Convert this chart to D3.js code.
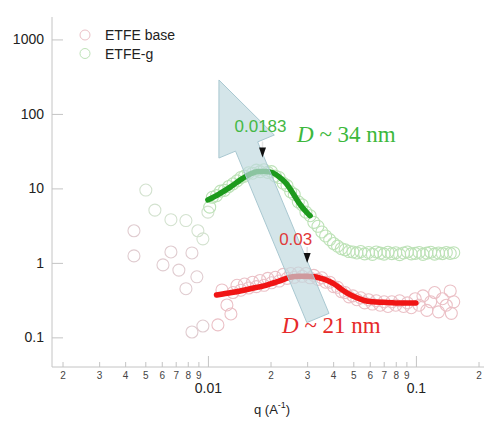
<!DOCTYPE html>
<html><head><meta charset="utf-8">
<script src="https://cdn.jsdelivr.net/npm/d3@7"></script>
<style>body{margin:0;background:#fff}svg{display:block}</style>
</head><body><svg id="c" width="484" height="421"></svg>
<script>
// ---------- data ----------
const xDomain = [0.00178, 0.22];
const yDomain = [0.04, 2000];
const xMajorTicks = [0.01, 0.1];
const xMajorLabels = ["0.01", "0.1"];
const xMinorTicks = [0.002,0.003,0.004,0.005,0.006,0.007,0.008,0.009,0.02,0.03,0.04,0.05,0.06,0.07,0.08,0.09,0.2];
const xMinorLabels = ["2","3","4","5","6","7","8","9","2","3","4","5","6","7","8","9","2"];
const yMajorTicks = [0.1, 1, 10, 100, 1000];
const yMajorLabels = ["0.1", "1", "10", "100", "1000"];
const seriesNames = ["ETFE base", "ETFE-g"];

const baseQ = [0.00441,0.00441,0.00608,0.00664,0.00725,0.00784,0.00838,0.00838,0.00885,0.00946,0.01117,0.01168,0.01234,0.0129,
  0.0132,0.0138,0.0144,0.0150,0.0157,0.0164,0.0171,0.0178,0.0186,0.0194,0.0202,0.0211,0.0220,0.0230,0.0240,0.0250,0.0260,0.0272,0.0284,0.0296,
  0.0310,0.0323,0.0338,0.0353,0.0368,0.0385,0.0402,0.0420,0.0438,0.0457,0.0477,0.0498,0.0520,0.0543,0.0567,0.0592,0.0618,0.0645,0.0673,0.0703,
  0.0734,0.0766,0.0800,0.0835,0.0872,0.0910,0.0950,0.0992,0.1036,0.1081,0.1129,0.1178,0.1230,0.1284,0.1341,0.1400,0.1462,0.1520,0.1480];
const baseI = [2.7,1.24,0.94,1.40,0.80,0.45,1.36,0.118,0.65,0.142,0.147,0.433,0.272,0.206,
  0.40,0.50,0.43,0.52,0.46,0.55,0.48,0.58,0.50,0.62,0.54,0.64,0.57,0.70,0.62,0.72,0.64,0.73,0.66,0.72,
  0.63,0.68,0.60,0.63,0.55,0.55,0.48,0.47,0.41,0.40,0.35,0.36,0.32,0.34,0.29,0.32,0.28,0.31,0.27,0.30,
  0.26,0.30,0.27,0.31,0.26,0.29,0.25,0.33,0.27,0.36,0.23,0.30,0.40,0.22,0.33,0.27,0.42,0.30,0.21];

const graftQ = [0.00503,0.00556,0.00664,0.00784,0.00895,0.00946,0.0100,0.0102,
  0.0105,0.0110,0.0115,0.0120,0.0126,0.0132,0.0138,0.0144,0.0150,0.0157,0.0164,0.0171,0.0178,0.0186,0.0194,0.0202,0.0211,0.0220,0.0230,0.0240,
  0.0250,0.0260,0.0272,0.0284,0.0296,0.0310,0.0323,0.0338,0.0353,0.0368,0.0385,0.0402,0.0420,0.0438,0.0457,0.0477,0.0498,
  0.0520,0.0543,0.0567,0.0592,0.0618,0.0645,0.0673,0.0703,0.0734,0.0766,0.0800,0.0835,0.0872,0.0910,0.0950,0.0992,0.1036,0.1081,0.1129,0.1178,
  0.1230,0.1284,0.1341,0.1400,0.1462,0.1520];
const graftI = [9.5,5.1,3.8,3.7,2.7,2.1,4.8,5.6,
  7.6,8.0,9.2,9.4,10.6,11.5,12.6,14.0,14.6,16.2,16.0,17.6,16.8,17.8,16.4,16.8,14.6,14.0,11.8,10.9,
  9.0,8.3,6.6,6.0,4.8,4.3,3.5,3.1,2.6,2.3,2.05,1.82,1.68,1.55,1.50,1.42,1.40,
  1.36,1.42,1.32,1.38,1.30,1.40,1.35,1.31,1.39,1.33,1.37,1.29,1.36,1.40,1.32,1.34,1.38,1.30,1.35,1.39,
  1.31,1.36,1.33,1.38,1.34,1.37];

const graftFitQ = [0.0100,0.0113,0.0128,0.0145,0.0160,0.0175,0.0190,0.0205,0.0220,0.0237,0.0255,0.0275,0.0300,0.0310];
const graftFitI = [7.0,8.4,10.4,13.3,15.6,16.9,16.9,16.2,14.3,11.8,8.8,6.3,4.7,4.3];
const baseFitQ = [0.0110,0.0130,0.0160,0.0190,0.0220,0.0248,0.0275,0.0300,0.0326,0.0350,0.0375,0.0405,0.0435,0.0470,0.0520,0.0570,0.0620,0.0700,0.0800,0.0900,0.1000];
const baseFitI = [0.37,0.40,0.45,0.50,0.57,0.64,0.66,0.66,0.65,0.62,0.58,0.52,0.45,0.39,0.34,0.31,0.30,0.295,0.29,0.29,0.29];

const peakQ = [0.0183, 0.03];
const peakLabels = ["0.0183", "0.03"];
const peakMarkerI = [26, 1.0];
const sizeLabels = ["34", "21"];
const arrowTail = [0.0338, 0.182];
const arrowTip = [0.0113, 285];

// ---------- scales ----------
const svg = d3.select("#c");
const x0 = 52;
const x = d3.scaleLog().domain(xDomain).range([x0, x0 + 208 * Math.log10(xDomain[1] / xDomain[0])]);
const y = d3.scaleLog().domain(yDomain).range([367, 17]);
const axisColor = "#c4c4c4";
const FONT = "'Liberation Sans', Arial, sans-serif";
const SERIF = "'Liberation Serif', 'Times New Roman', serif";

// y minor ticks
const yMinor = [];
for (let e = -2; e <= 3; e++) for (let m = 2; m <= 9; m++) { const v = m * Math.pow(10, e); if (v >= yDomain[0] && v <= yDomain[1]) yMinor.push(v); }

const gy = svg.append("g").attr("transform", `translate(${x0},0)`);
gy.call(d3.axisLeft(y).tickValues(yMinor).tickSize(-6).tickFormat(""));
gy.call(d3.axisLeft(y).tickValues(yMajorTicks).tickSize(-11).tickPadding(8).tickFormat((d, i) => yMajorLabels[i]));
gy.selectAll("path").attr("d", `M0,${y.range()[1]}V${y.range()[0]}`);
gy.selectAll("text").attr("font-size", 14).attr("fill", "#222");

const gx = svg.append("g").attr("transform", `translate(0,${y.range()[0]})`);
gx.call(d3.axisBottom(x).tickValues(xMinorTicks).tickSize(-5).tickPadding(5).tickFormat((d, i) => xMinorLabels[i]));
gx.selectAll("text").attr("font-size", 10).attr("fill", "#444");
const gx2 = svg.append("g").attr("transform", `translate(0,${y.range()[0]})`);
gx2.call(d3.axisBottom(x).tickValues(xMajorTicks).tickSize(-11).tickPadding(16).tickFormat((d, i) => xMajorLabels[i]));
gx2.selectAll("text").attr("font-size", 14).attr("fill", "#222");
gx2.select("path").remove();
gx.select("path").attr("d", `M${x0},0H484`);
svg.selectAll("g text").attr("font-family", FONT);
svg.selectAll("g path, g line").attr("stroke", axisColor);

// x label
const xl = svg.append("text").attr("x", 254).attr("y", 414).attr("font-family", FONT).attr("font-size", 13).attr("fill", "#222");
xl.append("tspan").text("q (A");
xl.append("tspan").attr("font-size", 9).attr("dy", -6).text("-1");
xl.append("tspan").attr("dy", 6).text(")");

// ---------- data marks ----------
const baseColor = "#ebc0c6", graftColor = "#bde2b7";
const lowColorBase = "#e0ccd0", lowColorGraft = "#d3e2cf";
svg.append("g").selectAll("circle").data(baseQ).join("circle")
  .attr("cx", d => x(d)).attr("cy", (d, i) => y(baseI[i])).attr("r", 6)
  .attr("fill", "none").attr("stroke", d => d < 0.0101 ? lowColorBase : baseColor).attr("stroke-width", 1.1);
svg.append("g").selectAll("circle").data(graftQ).join("circle")
  .attr("cx", d => x(d)).attr("cy", (d, i) => y(graftI[i])).attr("r", 6)
  .attr("fill", "none").attr("stroke", d => d < 0.0101 ? lowColorGraft : graftColor).attr("stroke-width", 1.1);

const line = d3.line().x(d => x(d[0])).y(d => y(d[1])).curve(d3.curveMonotoneX);
svg.append("path").attr("d", line(graftFitQ.map((q, i) => [q, graftFitI[i]])))
  .attr("fill", "none").attr("stroke", "#1c9a1c").attr("stroke-width", 5.5).attr("stroke-linecap", "round");
svg.append("path").attr("d", line(baseFitQ.map((q, i) => [q, baseFitI[i]])))
  .attr("fill", "none").attr("stroke", "#f01414").attr("stroke-width", 5.5).attr("stroke-linecap", "round");

// ---------- arrow ----------
const T = [x(arrowTail[0]), y(arrowTail[1])], P = [x(arrowTip[0]), y(arrowTip[1])];
const L = Math.hypot(P[0] - T[0], P[1] - T[1]);
const dv = [(P[0] - T[0]) / L, (P[1] - T[1]) / L], pv = [-dv[1], dv[0]];
const hw = 12, HW = 30, HL = 72;
const N = [P[0] - dv[0] * HL, P[1] - dv[1] * HL];
const pt = (b, s) => [b[0] + pv[0] * s, b[1] + pv[1] * s];
const arrowPts = [pt(T, hw), pt(N, hw), pt(N, HW), P, pt(N, -HW), pt(N, -hw), pt(T, -hw)];
svg.append("polygon").attr("points", arrowPts.map(p => p.join(",")).join(" "))
  .attr("fill", "#bfd8df").attr("fill-opacity", 0.68).attr("stroke", "#a9c8d1").attr("stroke-width", 1);

// ---------- peak markers ----------
peakQ.forEach((q, i) => {
  const cx = x(q), cy = y(peakMarkerI[i]);
  svg.append("line").attr("x1", cx).attr("x2", cx).attr("y1", cy - 16).attr("y2", cy - 9).attr("stroke", "#e4e4e4").attr("stroke-width", 1.5);
  svg.append("path").attr("d", `M${cx - 3.5},${cy - 10}L${cx + 3.5},${cy - 10}L${cx},${cy}Z`).attr("fill", "#111");
});

// ---------- labels ----------
svg.append("text").attr("x", x(peakQ[0]) - 28).attr("y", 132).attr("font-family", FONT).attr("font-size", 17)
  .attr("fill", "#45b845").text(peakLabels[0]);
svg.append("text").attr("x", x(peakQ[1]) - 28).attr("y", 245).attr("font-family", FONT).attr("font-size", 17)
  .attr("fill", "#e03a3a").text(peakLabels[1]);

function sizeLabel(xp, yp, txt, col) {
  const t = svg.append("text").attr("x", xp).attr("y", yp).attr("font-family", SERIF).attr("font-size", 23).attr("fill", col);
  t.append("tspan").attr("font-style", "italic").text("D");
  t.append("tspan").text(" ~ " + txt + " nm");
}
sizeLabel(297, 142, sizeLabels[0], "#3cb83c");
sizeLabel(282, 333, sizeLabels[1], "#e62a2a");

// ---------- legend ----------
[baseColor, graftColor].forEach((c, i) => {
  svg.append("circle").attr("cx", 85).attr("cy", 35 + i * 18.5).attr("r", 5).attr("fill", "none").attr("stroke", c).attr("stroke-width", 1);
  svg.append("text").attr("x", 105).attr("y", 40 + i * 19).attr("font-family", FONT).attr("font-size", 14).attr("fill", "#222").text(seriesNames[i]);
});
</script></body></html>
